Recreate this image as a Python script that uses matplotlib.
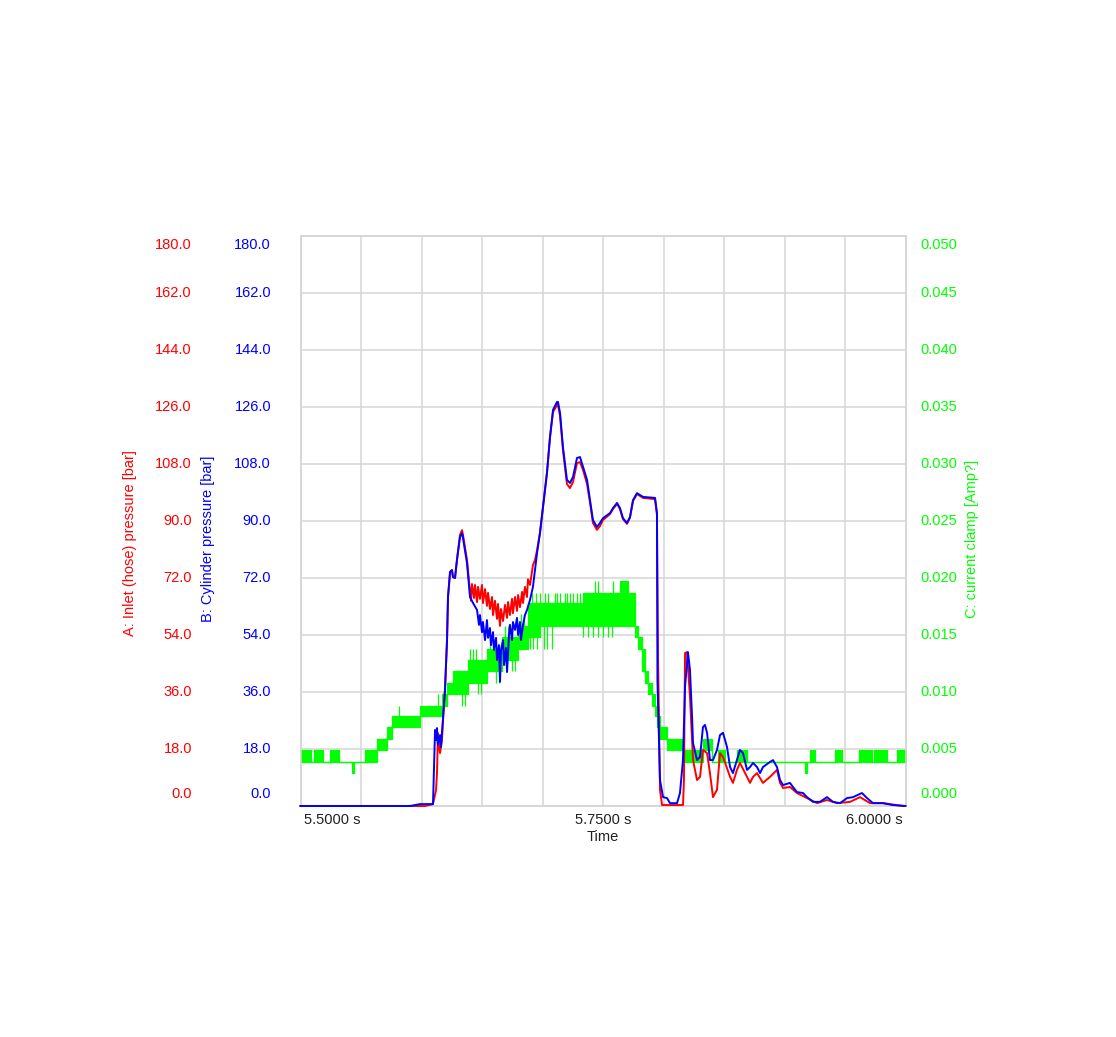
import matplotlib
matplotlib.use("Agg")
import matplotlib.pyplot as plt
from matplotlib import transforms

plt.rcParams['font.family'] = ['Liberation Sans', 'DejaVu Sans']

# ---------------- data ----------------
# A: inlet (hose) pressure [bar]
time_a = [5.5000, 5.6029, 5.6095, 5.6120, 5.6128, 5.6136, 5.6145, 5.6153, 5.6169, 5.6178,
          5.6194, 5.6211, 5.6219, 5.6236, 5.6252, 5.6260, 5.6277, 5.6293, 5.6318, 5.6335,
          5.6343, 5.6376, 5.6393, 5.6401, 5.6409, 5.6417, 5.6434, 5.6442, 5.6459, 5.6467,
          5.6483, 5.6500, 5.6508, 5.6525, 5.6541, 5.6550, 5.6566, 5.6583, 5.6591, 5.6607,
          5.6624, 5.6632, 5.6649, 5.6657, 5.6674, 5.6690, 5.6707, 5.6715, 5.6731, 5.6748,
          5.6756, 5.6773, 5.6789, 5.6798, 5.6814, 5.6831, 5.6839, 5.6855, 5.6872, 5.6880,
          5.6897, 5.6921, 5.6938, 5.6955, 5.6979, 5.7004, 5.7037, 5.7062, 5.7087, 5.7120,
          5.7128, 5.7145, 5.7169, 5.7202, 5.7227, 5.7252, 5.7285, 5.7310, 5.7335, 5.7368,
          5.7393, 5.7417, 5.7450, 5.7475, 5.7500, 5.7558, 5.7583, 5.7616, 5.7640, 5.7665,
          5.7698, 5.7723, 5.7748, 5.7781, 5.7806, 5.7831, 5.7930, 5.7946, 5.7955, 5.7971,
          5.7988, 5.8161, 5.8169, 5.8178, 5.8194, 5.8219, 5.8244, 5.8277, 5.8302, 5.8326,
          5.8360, 5.8384, 5.8409, 5.8442, 5.8467, 5.8492, 5.8550, 5.8574, 5.8607, 5.8632,
          5.8690, 5.8715, 5.8740, 5.8773, 5.8822, 5.8880, 5.8938, 5.8963, 5.8988, 5.9045,
          5.9103, 5.9186, 5.9269, 5.9351, 5.9434, 5.9541, 5.9624, 5.9707, 5.9814, 5.9979]
inlet_a = [0.0, 0.0, 0.6, 5.0, 10.4, 23.0, 19.0, 16.7, 20.8, 27.2,
           36.6, 52.4, 66.0, 73.9, 74.5, 72.3, 72.0, 77.7, 85.6, 87.1,
           85.6, 77.7, 70.7, 67.6, 64.8, 70.1, 65.7, 69.8, 64.4, 69.2,
           65.4, 69.8, 64.1, 68.5, 63.2, 67.3, 62.2, 66.0, 60.3, 64.8,
           59.1, 63.8, 56.9, 62.2, 58.4, 63.5, 59.4, 64.4, 60.3, 65.4,
           60.9, 66.0, 61.6, 66.6, 62.8, 67.6, 64.1, 69.2, 66.0, 71.6,
           69.8, 76.1, 77.7, 80.8, 86.2, 94.4, 105.2, 116.5, 124.4, 126.6,
           126.6, 123.2, 112.4, 101.7, 100.4, 102.3, 108.3, 108.6, 106.1, 101.7,
           95.7, 89.4, 87.2, 88.4, 90.3, 92.2, 93.8, 95.4, 93.8, 90.6,
           89.1, 91.0, 96.3, 98.5, 97.9, 97.3, 96.9, 91.9, 46.7, 5.0,
           0.3, 0.3, 8.2, 48.3, 48.6, 34.4, 14.5, 8.2, 9.2, 17.7,
           16.7, 10.4, 2.8, 5.1, 16.7, 15.5, 9.2, 7.3, 11.4, 13.6,
           9.2, 7.3, 9.2, 10.4, 7.3, 9.2, 11.4, 7.3, 5.7, 6.0,
           4.1, 2.5, 0.9, 1.9, 0.9, 1.3, 2.8, 0.9, 0.9, 0.0]

# B: cylinder pressure [bar]
time_b = [5.5000, 5.5905, 5.5988, 5.6095, 5.6112, 5.6120, 5.6128, 5.6136, 5.6153, 5.6161,
          5.6178, 5.6194, 5.6211, 5.6219, 5.6236, 5.6252, 5.6260, 5.6277, 5.6293, 5.6318,
          5.6335, 5.6343, 5.6376, 5.6401, 5.6426, 5.6459, 5.6475, 5.6483, 5.6500, 5.6508,
          5.6525, 5.6541, 5.6550, 5.6566, 5.6574, 5.6591, 5.6599, 5.6616, 5.6624, 5.6640,
          5.6649, 5.6657, 5.6674, 5.6682, 5.6698, 5.6707, 5.6723, 5.6731, 5.6748, 5.6756,
          5.6773, 5.6789, 5.6798, 5.6814, 5.6822, 5.6839, 5.6855, 5.6872, 5.6897, 5.6921,
          5.6955, 5.6979, 5.7004, 5.7037, 5.7062, 5.7087, 5.7120, 5.7128, 5.7145, 5.7169,
          5.7202, 5.7227, 5.7252, 5.7285, 5.7310, 5.7335, 5.7368, 5.7393, 5.7417, 5.7450,
          5.7475, 5.7500, 5.7558, 5.7583, 5.7616, 5.7640, 5.7665, 5.7698, 5.7723, 5.7748,
          5.7781, 5.7806, 5.7831, 5.7930, 5.7946, 5.7950, 5.7971, 5.7996, 5.8029, 5.8054,
          5.8112, 5.8136, 5.8161, 5.8178, 5.8202, 5.8219, 5.8236, 5.8244, 5.8277, 5.8302,
          5.8326, 5.8343, 5.8360, 5.8384, 5.8409, 5.8442, 5.8467, 5.8492, 5.8525, 5.8550,
          5.8574, 5.8607, 5.8632, 5.8657, 5.8690, 5.8715, 5.8740, 5.8773, 5.8798, 5.8822,
          5.8880, 5.8905, 5.8938, 5.8963, 5.8988, 5.9045, 5.9070, 5.9103, 5.9153, 5.9186,
          5.9236, 5.9293, 5.9351, 5.9401, 5.9459, 5.9517, 5.9566, 5.9640, 5.9682, 5.9731,
          5.9814, 5.9897, 6.0000]
cylinder_b = [0.0, 0.0, 0.6, 0.6, 24.0, 20.8, 24.6, 19.3, 22.4, 18.6,
              28.1, 36.6, 52.4, 66.0, 73.9, 74.5, 72.3, 72.0, 77.7, 84.9,
              86.2, 84.6, 76.7, 66.0, 64.1, 61.9, 57.2, 60.3, 54.9, 58.1,
              52.4, 58.7, 53.1, 56.2, 50.8, 54.9, 49.3, 53.1, 46.1, 50.8,
              39.2, 49.3, 52.4, 44.5, 49.9, 42.3, 54.0, 57.2, 52.4, 58.1,
              55.6, 59.4, 54.0, 58.1, 52.4, 57.2, 60.3, 61.9, 65.1, 69.2,
              79.9, 86.2, 94.4, 105.2, 116.5, 125.1, 127.6, 127.6, 124.1, 113.4,
              103.0, 102.0, 103.9, 109.9, 110.2, 107.1, 103.0, 96.6, 90.3, 88.1,
              89.4, 90.9, 92.5, 94.1, 95.7, 94.1, 90.9, 89.4, 91.3, 96.6,
              98.8, 98.2, 97.6, 97.3, 92.5, 39.8, 8.2, 2.8, 2.5, 0.9,
              0.9, 4.1, 14.5, 37.6, 48.6, 42.9, 28.1, 19.9, 14.5, 15.5,
              24.9, 25.6, 23.1, 14.5, 14.5, 17.7, 22.4, 23.1, 18.6, 12.3,
              10.4, 14.5, 17.7, 16.7, 11.4, 12.3, 13.6, 12.3, 10.4, 12.3,
              13.9, 14.5, 12.3, 8.2, 6.6, 7.3, 6.0, 4.4, 4.1, 2.8,
              1.3, 1.3, 2.8, 1.3, 0.9, 2.5, 2.8, 4.1, 2.5, 0.9,
              0.9, 0.3, 0.0]

# C: current clamp [Amp?] - quantised signal, drawn as bands (segment start, low, high)
green_t = [5.5000, 5.5087, 5.5112, 5.5186, 5.5244, 5.5318, 5.5426, 5.5442, 5.5533, 5.5632,
           5.5715, 5.5756, 5.5988, 5.6169, 5.6211, 5.6260, 5.6384, 5.6541, 5.6665, 5.6798,
           5.6880, 5.6979, 5.7335, 5.7640, 5.7707, 5.7764, 5.7789, 5.7822, 5.7847, 5.7872,
           5.7905, 5.7930, 5.7946, 5.7971, 5.8029, 5.8161, 5.8326, 5.8401, 5.8450, 5.8508,
           5.8607, 5.8690, 5.9169, 5.9182, 5.9211, 5.9252, 5.9417, 5.9475, 5.9616, 5.9723,
           5.9740, 5.9847, 5.9930, 6.0000]
green_lo = [0.0039, 0.0039, 0.0039, 0.0039, 0.0039, 0.0039, 0.0029, 0.0039, 0.0039, 0.0049,
            0.0059, 0.0069, 0.0079, 0.0088, 0.0098, 0.0098, 0.0108, 0.0118, 0.0128, 0.0138,
            0.0148, 0.0158, 0.0158, 0.0158, 0.0158, 0.0148, 0.0138, 0.0118, 0.0108, 0.0098,
            0.0088, 0.0079, 0.0069, 0.0059, 0.0049, 0.0039, 0.0049, 0.0039, 0.0039, 0.0039,
            0.0039, 0.0039, 0.0029, 0.0039, 0.0039, 0.0039, 0.0039, 0.0039, 0.0039, 0.0039,
            0.0039, 0.0039, 0.0039, 0.0039]
green_hi = [0.0049, 0.0039, 0.0049, 0.0039, 0.0049, 0.0039, 0.0039, 0.0039, 0.0049, 0.0059,
            0.0069, 0.0079, 0.0088, 0.0098, 0.0108, 0.0118, 0.0128, 0.0138, 0.0148, 0.0158,
            0.0178, 0.0178, 0.0187, 0.0197, 0.0187, 0.0158, 0.0148, 0.0138, 0.0118, 0.0108,
            0.0098, 0.0088, 0.0079, 0.0069, 0.0059, 0.0049, 0.0059, 0.0039, 0.0049, 0.0039,
            0.0049, 0.0039, 0.0039, 0.0039, 0.0049, 0.0039, 0.0049, 0.0039, 0.0049, 0.0039,
            0.0049, 0.0039, 0.0049, 0.0049]

# single-sample excursions of the current signal
spike_t = [5.5814, 5.6136, 5.6335, 5.6360, 5.6401, 5.6426, 5.6450, 5.6467, 5.6492, 5.6566,
           5.6591, 5.6616, 5.6640, 5.6690, 5.6715, 5.6748, 5.6773, 5.6822, 5.6847, 5.6897,
           5.6913, 5.6921, 5.6946, 5.6955, 5.6979, 5.7012, 5.7021, 5.7037, 5.7045, 5.7079,
           5.7103, 5.7120, 5.7145, 5.7186, 5.7202, 5.7227, 5.7252, 5.7285, 5.7310, 5.7335,
           5.7376, 5.7417, 5.7434, 5.7459, 5.7459, 5.7500, 5.7541, 5.7574, 5.7583]
spike_from = [0.0079, 0.0088, 0.0098, 0.0098, 0.0128, 0.0128, 0.0128, 0.0108, 0.0108, 0.0138,
              0.0138, 0.0118, 0.0118, 0.0148, 0.0148, 0.0128, 0.0128, 0.0158, 0.0158, 0.0148,
              0.0178, 0.0148, 0.0178, 0.0148, 0.0178, 0.0158, 0.0178, 0.0158, 0.0178, 0.0158,
              0.0178, 0.0178, 0.0178, 0.0178, 0.0178, 0.0178, 0.0178, 0.0178, 0.0178, 0.0158,
              0.0158, 0.0158, 0.0187, 0.0158, 0.0187, 0.0158, 0.0158, 0.0158, 0.0187]
spike_to = [0.0088, 0.0098, 0.0088, 0.0088, 0.0138, 0.0138, 0.0138, 0.0098, 0.0098, 0.0148,
            0.0148, 0.0108, 0.0108, 0.0158, 0.0158, 0.0118, 0.0118, 0.0168, 0.0168, 0.0138,
            0.0187, 0.0138, 0.0187, 0.0138, 0.0187, 0.0138, 0.0187, 0.0138, 0.0187, 0.0138,
            0.0187, 0.0187, 0.0187, 0.0187, 0.0187, 0.0187, 0.0187, 0.0187, 0.0187, 0.0148,
            0.0148, 0.0148, 0.0197, 0.0148, 0.0197, 0.0148, 0.0148, 0.0148, 0.0197]

x_grid = [5.50, 5.55, 5.60, 5.65, 5.70, 5.75, 5.80, 5.85, 5.90, 5.95, 6.00]
x_labels = [(5.50, "5.5000 s"), (5.75, "5.7500 s"), (6.00, "6.0000 s")]
p_ticks = [0.0, 18.0, 36.0, 54.0, 72.0, 90.0, 108.0, 126.0, 144.0, 162.0, 180.0]
c_ticks = [0.000, 0.005, 0.010, 0.015, 0.020, 0.025, 0.030, 0.035, 0.040, 0.045, 0.050]

RED = '#ff0000'
BLUE = '#0000ff'
GREEN = '#00ff00'
GRID = '#d6d6d6'
FS = 10.5

W, H = 1116, 1037
fig = plt.figure(figsize=(W / 100, H / 100), dpi=100)
L, R, T, B = 300.5, 905.5, 236.0, 806.0
ax = fig.add_axes([L / W, 1 - B / H, (R - L) / W, (B - T) / H])
ax2 = ax.twinx()

# green (current) on main axes, underneath
ax.set_xlim(5.5, 6.0)
ax.set_ylim(0, 0.05)
ax.set_xticks(x_grid)
ax.set_yticks(c_ticks)
ax.grid(True, color=GRID, lw=1.1)
ax.set_axisbelow(True)
ax.tick_params(length=0, labelbottom=False, labelleft=False, labelright=False)

ax.fill_between(green_t, green_lo, green_hi, step='post', facecolor=GREEN, edgecolor=GREEN,
                lw=0.9, zorder=3)
ax.vlines(spike_t, spike_from, spike_to, colors=GREEN, lw=0.9, zorder=3)

# pressures on twin axes, on top
ax2.set_ylim(0, 180)
ax2.set_yticks(p_ticks)
ax2.tick_params(length=0, labelright=False, labelleft=False)
ax2.plot(time_a, inlet_a, color=RED, lw=1.4, clip_on=False, zorder=4)
ax2.plot(time_b, cylinder_b, color=BLUE, lw=1.4, clip_on=False, zorder=5)

for a in (ax, ax2):
    for s in a.spines.values():
        s.set_color(GRID)
        s.set_linewidth(1.1)

# tick label texts
def shift_for(i, n):
    if i == n - 1:
        return -8.5
    if i == 0:
        return 12.5
    return 0.0

n = len(p_ticks)
for i, v in enumerate(p_ticks):
    dy = shift_for(i, n)
    tr = transforms.offset_copy(ax2.get_yaxis_transform(), fig=fig, x=0, y=dy, units='dots')
    ax2.text((192 - L) / (R - L), v, f"{v:.1f}", color=RED, ha='right', va='center',
             fontsize=FS, transform=tr)
    ax2.text((271 - L) / (R - L), v, f"{v:.1f}", color=BLUE, ha='right', va='center',
             fontsize=FS, transform=tr)
n = len(c_ticks)
for i, v in enumerate(c_ticks):
    dy = shift_for(i, n)
    tr = transforms.offset_copy(ax.get_yaxis_transform(), fig=fig, x=0, y=dy, units='dots')
    ax.text((920 - L) / (R - L), v, f"{v:.3f}", color=GREEN, ha='left', va='center',
            fontsize=FS, transform=tr)

for v, s in x_labels:
    if v == x_grid[0]:
        ha, dx = 'left', 3
    elif v == x_grid[-1]:
        ha, dx = 'right', -3
    else:
        ha, dx = 'center', 0
    tr = transforms.offset_copy(ax.get_xaxis_transform(), fig=fig, x=dx, y=-14, units='dots')
    ax.text(v, 0, s, color='#202020', ha=ha, va='center', fontsize=FS, transform=tr)

tr = transforms.offset_copy(ax.transAxes, fig=fig, x=0, y=-31, units='dots')
ax.text(0.5, 0, "Time", color='#202020', ha='center', va='center', fontsize=FS, transform=tr)

fig.text(130 / W, 1 - 543 / H, "A: Inlet (hose) pressure [bar]", color=RED, rotation=90,
         ha='center', va='center', fontsize=FS)
fig.text(208 / W, 1 - 539 / H, "B: Cylinder pressure [bar]", color=BLUE, rotation=90,
         ha='center', va='center', fontsize=FS)
fig.text(972 / W, 1 - 539 / H, "C: current clamp [Amp?]", color=GREEN, rotation=90,
         ha='center', va='center', fontsize=FS)

fig.savefig("out.png", dpi=100)
